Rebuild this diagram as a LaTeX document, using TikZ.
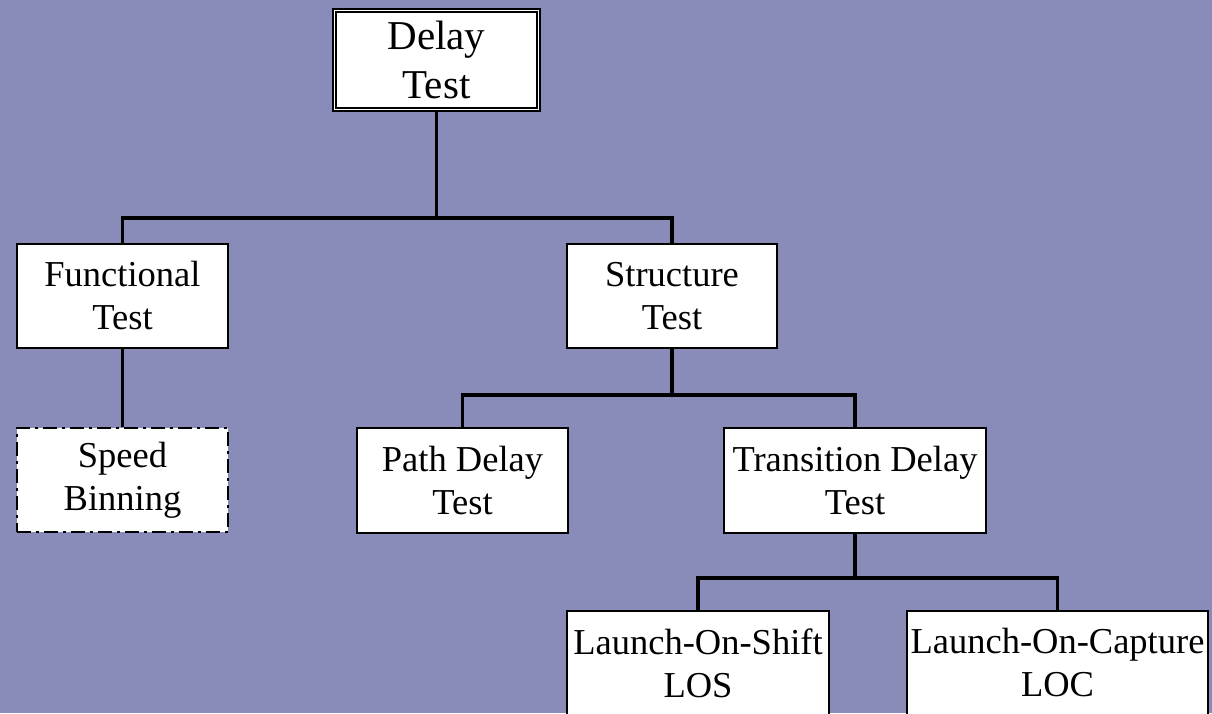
\documentclass[tikz,border=0pt]{standalone}
\usepackage{fontspec}
\setmainfont{Liberation Serif}
\definecolor{bgblue}{RGB}{137,139,185}
\tikzset{
  box/.style={draw=black, line width=2.2pt, fill=white, inner sep=0pt, align=center,
    font=\fontsize{36.5}{43}\selectfont},
  topbox/.style={draw=black, line width=1.7pt, double=white, double distance=1.6pt, fill=white,
    inner sep=0pt, align=center, font=\fontsize{41}{49}\selectfont},
  dashbox/.style={box, dash pattern=on 14pt off 5pt on 3pt off 5pt},
  conn/.style={draw=black, line width=3.6pt}
}
\begin{document}
\begin{tikzpicture}[x=1pt,y=-1pt]
\fill[bgblue] (0,0) rectangle (1212,713);
\useasboundingbox (0,0) rectangle (1212,713);

\node[topbox, minimum width=204pt, minimum height=99pt] (delay) at (436.5,60) {Delay\\Test};
\node[box, minimum width=211pt, minimum height=104pt] (func) at (122.5,296) {Functional\\Test};
\node[box, minimum width=210pt, minimum height=104pt] (struct) at (672,296) {Structure\\Test};
\node[dashbox, minimum width=211pt, minimum height=104pt] (speed) at (122.5,480) {Speed\\Binning};
\node[box, minimum width=211pt, minimum height=105pt] (path) at (462.5,480.5) {Path Delay\\Test};
\node[box, minimum width=262pt, minimum height=105pt] (trans) at (855,480.5) {Transition Delay\\Test};
\node[box, minimum width=262pt, minimum height=104pt] (los) at (698,663) {Launch-On-Shift\\LOS};
\node[box, minimum width=301pt, minimum height=104pt] (loc) at (1057.5,663) {Launch-On-Capture\\LOC};

\coordinate (j1) at (436.5,218);
\coordinate (j2) at (672,395);
\coordinate (j3) at (855,578);

\draw[conn] (delay.south) -- (j1);
\draw[conn] (func.north) |- (j1) -| (struct.north);
\draw[conn] (func.south) -- (speed.north);
\draw[conn] (struct.south) -- (j2);
\draw[conn] (path.north) |- (j2) -| (trans.north);
\draw[conn] (trans.south) -- (j3);
\draw[conn] (los.north) |- (j3) -| (loc.north);
\end{tikzpicture}
\end{document}
